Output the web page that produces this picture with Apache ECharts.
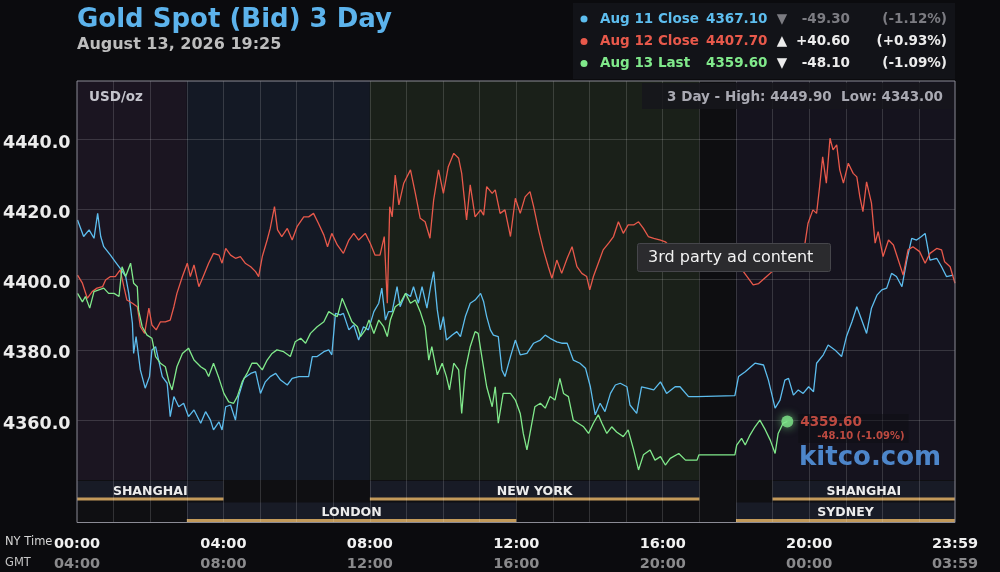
<!DOCTYPE html>
<html><head><meta charset="utf-8">
<script src="https://cdn.jsdelivr.net/npm/echarts@6/dist/echarts.min.js"></script>
<style>html,body{margin:0;padding:0;background:#0b0b0e;}#c{width:1000px;height:572px;}</style>
</head><body><div id="c"></div>
<script>
// ---------- DATA (minutes after 00:00 NY time, USD/oz) ----------
const blueAug11 = [[0,4417.0],[10,4412.3],[19,4414.2],[27,4411.8],[33,4418.9],[38,4412.3],[43,4409.4],[54,4407.0],[62,4405.1],[70,4403.2],[79,4400.9],[84,4396.1],[90,4387.6],[92,4379.0],[96,4383.8],[103,4374.3],[111,4369.1],[118,4372.4],[122,4380.0],[128,4380.9],[133,4377.1],[139,4372.4],[147,4370.5],[152,4361.0],[158,4366.7],[166,4363.8],[174,4364.8],[182,4361.0],[191,4362.9],[202,4359.1],[210,4362.4],[218,4360.0],[223,4357.2],[232,4359.5],[237,4357.2],[243,4363.8],[251,4364.3],[259,4360.0],[264,4366.7],[273,4371.9],[284,4373.3],[292,4373.8],[300,4367.6],[308,4370.9],[316,4372.4],[325,4373.3],[333,4371.4],[344,4370.0],[352,4371.9],[363,4372.4],[371,4372.4],[379,4372.4],[385,4378.1],[393,4378.1],[404,4379.5],[412,4380.0],[417,4378.6],[423,4390.4],[431,4390.0],[436,4390.4],[445,4385.7],[453,4387.1],[461,4382.8],[469,4386.6],[477,4385.7],[486,4390.9],[494,4393.3],[499,4397.6],[505,4388.5],[510,4390.9],[516,4390.9],[524,4398.0],[529,4392.3],[538,4396.1],[546,4395.2],[551,4398.0],[559,4393.3],[565,4398.0],[573,4391.9],[579,4398.0],[584,4402.3],[590,4391.4],[595,4385.7],[600,4389.5],[605,4382.8],[614,4384.2],[622,4385.2],[628,4383.8],[636,4389.5],[644,4393.3],[652,4394.2],[661,4396.1],[666,4393.7],[671,4389.5],[677,4385.7],[682,4384.2],[690,4383.8],[696,4374.3],[701,4372.4],[710,4378.1],[718,4382.8],[726,4378.6],[737,4379.0],[748,4381.9],[759,4382.8],[767,4384.2],[775,4383.3],[786,4382.3],[794,4381.9],[803,4381.9],[813,4377.1],[824,4376.2],[833,4374.8],[841,4369.5],[849,4361.5],[857,4364.8],[865,4362.4],[874,4367.6],[882,4370.0],[890,4370.5],[901,4369.5],[906,4364.3],[917,4361.9],[925,4369.5],[934,4369.1],[945,4368.6],[956,4370.9],[966,4367.6],[980,4369.5],[988,4369.5],[1002,4366.7],[1016,4366.7],[1078,4367.0],[1084,4372.4],[1095,4373.8],[1111,4376.2],[1125,4375.7],[1133,4371.4],[1144,4363.4],[1152,4365.7],[1160,4371.4],[1166,4371.9],[1174,4367.1],[1182,4368.6],[1190,4367.6],[1199,4369.5],[1207,4368.1],[1212,4376.2],[1223,4378.6],[1231,4381.4],[1242,4380.0],[1253,4378.1],[1261,4383.8],[1270,4388.0],[1278,4392.3],[1286,4388.5],[1294,4384.7],[1302,4391.9],[1311,4395.6],[1319,4397.1],[1327,4397.6],[1335,4401.8],[1343,4400.9],[1352,4398.0],[1360,4405.6],[1368,4411.8],[1376,4411.3],[1384,4412.3],[1390,4413.2],[1398,4405.6],[1409,4406.1],[1417,4403.7],[1425,4400.9],[1436,4401.3]];

const redAug12 = [[0,4401.3],[8,4399.0],[16,4394.7],[24,4396.6],[32,4397.6],[41,4398.0],[46,4399.9],[54,4400.9],[62,4400.9],[70,4402.8],[76,4398.0],[81,4394.2],[90,4393.3],[98,4392.3],[103,4386.6],[110,4384.7],[117,4391.9],[122,4387.1],[129,4385.7],[136,4388.0],[144,4388.0],[152,4388.5],[158,4392.3],[163,4396.1],[172,4400.9],[180,4404.7],[185,4400.9],[191,4404.2],[199,4398.0],[207,4401.3],[215,4404.7],[223,4407.5],[232,4407.0],[237,4404.7],[243,4408.9],[251,4407.0],[259,4406.1],[267,4406.6],[275,4404.7],[284,4403.7],[292,4402.3],[297,4400.9],[303,4406.6],[311,4411.3],[316,4414.6],[323,4420.8],[328,4414.2],[335,4412.3],[344,4414.6],[352,4411.3],[360,4415.1],[371,4417.9],[379,4417.9],[387,4418.9],[395,4416.1],[404,4412.7],[410,4409.4],[417,4413.2],[426,4409.9],[436,4407.5],[445,4411.3],[453,4413.2],[461,4411.3],[472,4413.2],[480,4410.4],[488,4407.0],[496,4407.0],[503,4412.3],[508,4393.3],[512,4420.8],[516,4417.9],[521,4429.8],[527,4421.3],[535,4427.5],[546,4431.3],[554,4424.6],[562,4417.5],[570,4416.5],[578,4411.8],[584,4422.7],[592,4431.3],[600,4424.6],[608,4432.2],[617,4436.0],[625,4434.6],[630,4430.3],[638,4417.0],[644,4427.0],[652,4417.9],[661,4419.9],[666,4418.4],[671,4426.5],[680,4424.6],[685,4425.6],[693,4418.9],[701,4419.9],[710,4412.3],[718,4423.2],[726,4418.9],[734,4423.6],[742,4425.1],[748,4420.8],[756,4414.2],[764,4408.5],[772,4403.7],[778,4400.4],[786,4405.6],[794,4401.8],[803,4406.1],[811,4409.4],[819,4403.7],[827,4401.8],[835,4400.9],[840,4397.1],[846,4400.9],[854,4404.7],[862,4408.5],[871,4410.4],[879,4412.3],[887,4416.5],[895,4413.2],[903,4415.6],[912,4415.6],[920,4416.5],[928,4414.6],[936,4412.3],[945,4411.8],[956,4411.3],[964,4410.8],[985,4407.0],[1016,4405.0],[1078,4405.0],[1084,4403.5],[1092,4402.3],[1108,4398.5],[1117,4398.9],[1130,4400.9],[1139,4402.3],[1160,4405.0],[1180,4408.0],[1193,4410.4],[1198,4416.1],[1206,4419.9],[1212,4418.9],[1217,4426.5],[1222,4435.0],[1228,4427.5],[1234,4440.3],[1239,4437.0],[1245,4438.4],[1250,4431.3],[1256,4427.5],[1264,4433.2],[1272,4430.3],[1278,4429.3],[1283,4423.6],[1288,4419.4],[1294,4427.9],[1302,4421.8],[1308,4410.4],[1313,4413.7],[1321,4406.6],[1330,4411.3],[1338,4409.9],[1346,4405.6],[1354,4401.3],[1362,4408.5],[1370,4409.4],[1381,4408.0],[1390,4404.7],[1398,4407.5],[1409,4408.9],[1417,4408.5],[1422,4405.1],[1431,4403.7],[1439,4399.0]];

const greenAug13 = [[0,4396.1],[8,4393.7],[13,4395.2],[20,4391.9],[27,4396.6],[35,4397.1],[43,4397.6],[51,4396.1],[60,4396.1],[68,4395.2],[73,4403.7],[79,4400.9],[87,4404.7],[92,4399.0],[98,4398.0],[100,4391.4],[106,4386.6],[114,4384.2],[122,4383.3],[128,4378.1],[136,4376.2],[144,4375.2],[150,4370.9],[155,4368.6],[163,4375.2],[172,4379.0],[182,4380.5],[191,4377.1],[202,4375.2],[210,4374.3],[215,4372.4],[223,4376.2],[232,4371.9],[240,4367.6],[248,4365.2],[256,4364.8],[262,4366.7],[270,4370.9],[278,4373.3],[286,4376.2],[294,4376.2],[303,4374.3],[311,4377.1],[319,4379.0],[327,4380.0],[338,4379.5],[349,4378.1],[357,4382.3],[366,4383.3],[374,4381.9],[382,4384.7],[393,4386.6],[404,4388.0],[412,4390.9],[420,4390.0],[426,4389.5],[434,4394.7],[442,4391.4],[450,4388.0],[459,4386.6],[464,4383.8],[472,4385.7],[478,4388.5],[486,4384.7],[494,4388.5],[502,4386.6],[508,4383.8],[513,4388.5],[521,4392.3],[529,4393.3],[538,4396.1],[546,4393.3],[554,4394.2],[562,4390.9],[570,4386.6],[576,4377.1],[581,4380.9],[590,4372.9],[598,4376.2],[605,4372.4],[610,4368.6],[617,4376.2],[625,4374.3],[630,4361.9],[636,4374.3],[644,4380.9],[652,4385.2],[657,4384.7],[663,4378.1],[671,4369.5],[680,4363.8],[685,4369.5],[690,4359.1],[698,4367.6],[710,4367.6],[718,4365.7],[726,4361.9],[731,4356.2],[737,4351.5],[742,4356.2],[750,4363.8],[759,4364.8],[767,4363.4],[775,4366.7],[783,4365.7],[791,4371.9],[797,4367.6],[805,4366.7],[813,4360.0],[821,4359.1],[830,4358.1],[838,4356.2],[846,4359.1],[854,4361.5],[860,4359.1],[868,4356.2],[876,4358.1],[884,4356.6],[895,4355.3],[903,4357.2],[912,4351.5],[920,4345.8],[928,4350.1],[939,4351.5],[947,4348.6],[956,4349.6],[964,4347.2],[972,4349.1],[986,4350.5],[997,4348.6],[1010,4348.6],[1016,4348.6],[1019,4350.1],[1078,4350.1],[1081,4352.9],[1089,4354.8],[1095,4352.9],[1103,4355.8],[1111,4358.1],[1119,4360.0],[1128,4357.2],[1136,4354.3],[1144,4350.5],[1149,4356.2],[1157,4359.1],[1164,4359.6]];

const lastPoint = [1164, 4359.6];

const tickMinutes = [0, 240, 480, 720, 960, 1200, 1439];
const nyTickLabels = ['00:00','04:00','08:00','12:00','16:00','20:00','23:59'];
const gmtTickLabels = ['04:00','08:00','12:00','16:00','20:00','00:00','03:59'];

const sessionNames = ['SHANGHAI','LONDON','NEW YORK','SYDNEY','SHANGHAI'];
const sessionStart = [0, 180, 480, 1080, 1140];
const sessionEnd   = [240, 720, 1020, 1439, 1439];
const sessionRow   = [0, 1, 0, 1, 0];

const shadeStart = [0, 180, 480, 1020, 1080];
const shadeEnd   = [180, 480, 1020, 1080, 1439];

const legendNames   = ['Aug 11 Close','Aug 12 Close','Aug 13 Last'];
const legendValues  = ['4367.10','4407.70','4359.60'];
const legendArrows  = ['\u25BC','\u25B2','\u25BC'];
const legendChanges = ['-49.30','+40.60','-48.10'];
const legendPcts    = ['(-1.12%)','(+0.93%)','(-1.09%)'];
const rangeHigh = '4449.90';
const rangeLow  = '4343.00';

// ---------- STYLE / LAYOUT ----------
const FONT = '"DejaVu Sans", Verdana, sans-serif';
const SERIES_COLORS = ['#5dbdee', '#e8594b', '#80e98b'];
const SHADE_COLORS = ['#1b1521', '#141925', '#1a2019', '#0e0e11', '#15131e'];
const PLOT_L = 77, PLOT_W = 878, PLOT_T = 81, PLOT_H = 442, MAIN_H = 399, ROW_H = 21.5;

const chart = echarts.init(document.getElementById('c'), null, {renderer: 'canvas'});

function shadeItem(params, api) {
  const cs = params.coordSys;
  const x0 = api.coord([api.value(0), 0])[0];
  const x1 = api.coord([api.value(1), 0])[0];
  return {
    type: 'group',
    children: [
      {type: 'rect', shape: {x: x0, y: cs.y, width: x1 - x0, height: MAIN_H}, style: {fill: SHADE_COLORS[params.dataIndex]}},
      {type: 'rect', shape: {x: x0, y: cs.y + MAIN_H, width: x1 - x0, height: cs.height - MAIN_H}, style: {fill: '#0f0f12'}}
    ]
  };
}

function sessionItem(params, api) {
  const cs = params.coordSys;
  const x0 = api.coord([api.value(0), 0])[0];
  const x1 = api.coord([api.value(1), 0])[0];
  const row = api.value(2);
  const top = cs.y + MAIN_H + row * ROW_H;
  const name = sessionNames[params.dataIndex];
  return {
    type: 'group',
    children: [
      {type: 'rect', shape: {x: x0, y: top + 1, width: x1 - x0, height: ROW_H - 4}, style: {fill: '#181b26'}},
      {type: 'rect', shape: {x: x0, y: top + ROW_H - 4, width: x1 - x0, height: 3}, style: {fill: '#c39a5a'}},
      {type: 'text', x: (x0 + x1) / 2, y: top + ROW_H / 2 + 0.5,
       style: {text: name, fill: '#ececec', fontSize: 12.5, fontWeight: 'bold', fontFamily: FONT, align: 'center', verticalAlign: 'middle'}}
    ]
  };
}

const legendGraphics = [];
legendGraphics.push({type: 'rect', shape: {x: 573, y: 3, width: 382, height: 76}, style: {fill: '#121318'}});
const rowY = [19, 41.5, 63.5];
for (let i = 0; i < 3; i++) {
  const c = SERIES_COLORS[i];
  const rest = i === 0 ? '#7c7c82' : '#ececec';
  const txt = (x, t, fill, align) => ({type: 'text', x: x, y: rowY[i],
    style: {text: t, fill: fill, fontSize: 13.5, fontWeight: 'bold', fontFamily: FONT, align: align, verticalAlign: 'middle'}});
  legendGraphics.push({type: 'circle', shape: {cx: 584, cy: rowY[i], r: 3.5}, style: {fill: c}});
  legendGraphics.push(txt(600, legendNames[i], c, 'left'));
  legendGraphics.push(txt(706, legendValues[i], c, 'left'));
  legendGraphics.push(txt(782, legendArrows[i], rest, 'center'));
  legendGraphics.push(txt(850, legendChanges[i], rest, 'right'));
  legendGraphics.push(txt(947, legendPcts[i], rest, 'right'));
}

const option = {
  backgroundColor: '#0b0b0e',
  animation: false,
  grid: [
    {left: PLOT_L, top: PLOT_T, width: PLOT_W, height: PLOT_H, show: true, backgroundColor: 'transparent', borderColor: '#8b8b95', borderWidth: 1, z: 5},
    {left: PLOT_L, top: 69.1, width: PLOT_W, height: 421.2, show: false}
  ],
  xAxis: [
    {gridIndex: 0, type: 'value', min: 0, max: 1439, interval: 60, z: 1,
     axisLine: {show: false}, axisTick: {show: false},
     splitLine: {show: true, showMinLine: false, showMaxLine: false, lineStyle: {color: 'rgba(255,255,255,0.15)', width: 1}},
     axisLabel: {show: true, interval: 0, margin: 12, showMinLabel: true, showMaxLabel: true,
       formatter: function (v) {
         const i = tickMinutes.indexOf(Math.round(v));
         if (i < 0) return '';
         return '{a|' + nyTickLabels[i] + '}\n{b|' + gmtTickLabels[i] + '}';
       },
       rich: {
         a: {color: '#f2f2f2', fontSize: 14.5, fontWeight: 'bold', fontFamily: FONT, lineHeight: 20},
         b: {color: '#8a8a8c', fontSize: 14.5, fontWeight: 'bold', fontFamily: FONT, lineHeight: 20}
       }}},
    {gridIndex: 1, type: 'value', min: 0, max: 1439, show: false}
  ],
  yAxis: [
    {gridIndex: 0, type: 'value', min: 0, max: 1, show: false},
    {gridIndex: 1, type: 'value', min: 4340, max: 4460, interval: 20, z: 1,
     axisLine: {show: false}, axisTick: {show: false},
     splitLine: {show: true, showMinLine: false, showMaxLine: false, lineStyle: {color: 'rgba(255,255,255,0.15)', width: 1}},
     axisLabel: {showMinLabel: false, showMaxLabel: false, margin: 7, verticalAlign: 'top', lineHeight: 8,
       color: '#ececec', fontSize: 17.5, fontWeight: 'bold', fontFamily: FONT,
       formatter: function (v) { return (v <= 4340 || v >= 4460) ? '' : v.toFixed(1); }}}
  ],
  series: [
    {type: 'custom', name: 'shade', xAxisIndex: 0, yAxisIndex: 0, z: 0, silent: true, clip: false,
     renderItem: shadeItem, data: shadeStart.map((s, i) => [s, shadeEnd[i]])},
    {type: 'custom', name: 'sessions', xAxisIndex: 0, yAxisIndex: 0, z: 0.5, silent: true, clip: false,
     renderItem: sessionItem, data: sessionStart.map((s, i) => [s, sessionEnd[i], sessionRow[i]])},
    {type: 'line', name: legendNames[0], xAxisIndex: 1, yAxisIndex: 1, data: blueAug11, showSymbol: false, z: 3,
     lineStyle: {color: SERIES_COLORS[0], width: 1.3}, itemStyle: {color: SERIES_COLORS[0]}},
    {type: 'line', name: legendNames[1], xAxisIndex: 1, yAxisIndex: 1, data: redAug12, showSymbol: false, z: 3,
     lineStyle: {color: SERIES_COLORS[1], width: 1.3}, itemStyle: {color: SERIES_COLORS[1]}},
    {type: 'line', name: legendNames[2], xAxisIndex: 1, yAxisIndex: 1, data: greenAug13, showSymbol: false, z: 3,
     lineStyle: {color: SERIES_COLORS[2], width: 1.3}, itemStyle: {color: SERIES_COLORS[2]}},
    {type: 'scatter', name: 'last', xAxisIndex: 1, yAxisIndex: 1, data: [lastPoint], symbolSize: 12, z: 4,
     itemStyle: {color: SERIES_COLORS[2], shadowBlur: 10, shadowColor: 'rgba(128,233,139,0.9)'},
     label: {show: true, position: 'right', distance: 5, offset: [0, 7],
       backgroundColor: 'rgba(14,14,18,0.55)', padding: [1, 4, 1, 2],
       formatter: '{a|' + legendValues[2] + '}\n{b|' + legendChanges[2] + ' ' + legendPcts[2] + '}',
       rich: {
         a: {color: '#e8594b', fontSize: 13.5, fontWeight: 'bold', fontFamily: FONT, lineHeight: 15},
         b: {color: '#e8594b', fontSize: 10, fontWeight: 'bold', fontFamily: FONT, lineHeight: 12, padding: [0, 0, 0, 17]}
       }}}
  ],
  graphic: [
    {type: 'text', x: 77, y: 20, style: {text: 'Gold Spot (Bid) 3 Day', fill: '#5cb3ec', fontSize: 26, fontWeight: 'bold', fontFamily: FONT, verticalAlign: 'middle'}},
    {type: 'text', x: 77, y: 44.5, style: {text: 'August 13, 2026 19:25', fill: '#bdbdbd', fontSize: 16, fontWeight: 'bold', fontFamily: FONT, verticalAlign: 'middle'}},
    {type: 'group', children: legendGraphics},
    {type: 'rect', z: 6, shape: {x: 642, y: 83, width: 312, height: 26}, style: {fill: 'rgba(22,22,28,0.85)'}},
    {type: 'text', z: 7, x: 943, y: 97, style: {text: '3 Day - High: ' + rangeHigh + '  Low: ' + rangeLow, fill: '#a9a9b2', fontSize: 13.5, fontWeight: 'bold', fontFamily: FONT, align: 'right', verticalAlign: 'middle'}},
    {type: 'text', z: 7, x: 89, y: 97, style: {text: 'USD/oz', fill: '#c4c4cc', fontSize: 13.5, fontWeight: 'bold', fontFamily: FONT, verticalAlign: 'middle'}},
    {type: 'text', x: 5, y: 542, style: {text: 'NY Time', fill: '#d6d6d6', fontSize: 11.5, fontFamily: FONT, verticalAlign: 'middle'}},
    {type: 'text', x: 5, y: 563, style: {text: 'GMT', fill: '#c4c4c4', fontSize: 11.5, fontFamily: FONT, verticalAlign: 'middle'}},
    {type: 'text', z: 7, x: 799, y: 458, style: {text: 'kitco.com', fill: 'rgba(80,140,212,0.95)', fontSize: 26, fontWeight: 'bold', fontFamily: FONT, verticalAlign: 'middle'}},
    {type: 'group', z: 20, children: [
      {type: 'rect', z: 20, shape: {x: 637.5, y: 243.5, width: 193, height: 28, r: 2}, style: {fill: '#2b2b2e', stroke: '#46464b', lineWidth: 1}},
      {type: 'text', z: 21, x: 648, y: 257.5, style: {text: '3rd party ad content', fill: '#f2f2f2', fontSize: 16, fontFamily: FONT, verticalAlign: 'middle'}}
    ]}
  ]
};
chart.setOption(option);
</script></body></html>
